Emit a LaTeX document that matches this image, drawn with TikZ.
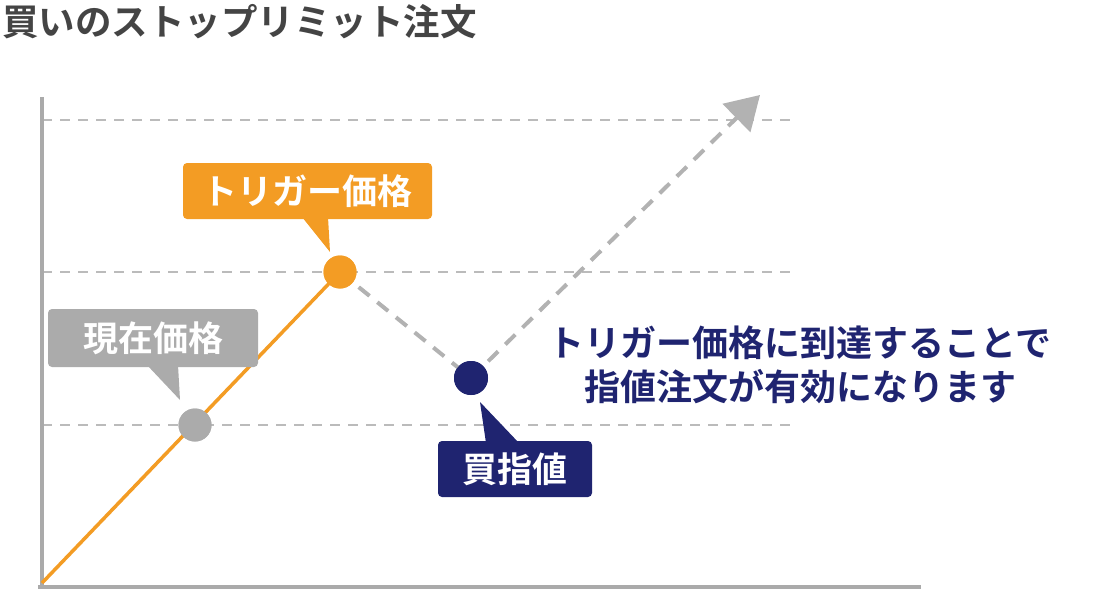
\documentclass[tikz,border=0pt]{standalone}
\usepackage{fontspec}
\newfontfamily\cjk{Noto Sans CJK JP}[BoldFont={Noto Sans CJK JP Bold}]
\usetikzlibrary{arrows.meta}
\definecolor{orng}{HTML}{F39C24}
\definecolor{navy}{HTML}{1F2470}
\definecolor{gbox}{HTML}{ABABAB}
\definecolor{gaxis}{HTML}{AAAAAA}
\definecolor{ggrid}{HTML}{BBBBBB}
\definecolor{gtitle}{HTML}{444444}
\tikzset{
  grid line/.style={ggrid, line width=2.2pt, dash pattern=on 10pt off 8pt},
  axis line/.style={gaxis, line width=4pt},
  dot/.style={circle, inner sep=0pt, minimum size=#1},
  callout/.style={rounded corners=4pt, inner sep=0pt, text=white, font=\cjk\bfseries\fontsize{35}{40}\selectfont},
  path dash/.style={gaxis!90!white, line width=4pt, dash pattern=on 14pt off 10pt},
}
\begin{document}
\begin{tikzpicture}[x=1pt,y=-1pt]
\useasboundingbox (0,0) rectangle (1100,591);
% title
\node[anchor=west, inner sep=0pt, text=gtitle, font=\cjk\bfseries\fontsize{36.5}{40}\selectfont] (title) at (2,22) {買いのストップリミット注文};
% grid
\coordinate (g1a) at (42,120); \coordinate (g1b) at (795,120);
\coordinate (g2a) at (42,272); \coordinate (g2b) at (795,272);
\coordinate (g3a) at (42,425); \coordinate (g3b) at (795,425);
\draw[grid line] (g1a) -- (g1b);
\draw[grid line] (g2a) -- (g2b);
\draw[grid line] (g3a) -- (g3b);
% axes
\coordinate (ytop) at (42,97);
\coordinate (ybot) at (42,589);
\coordinate (xstart) at (38,587);
\coordinate (xend) at (921,587);
\draw[axis line] (ytop) -- (ybot);
\draw[axis line] (xstart) -- (xend);
% points
\node[dot=33pt, fill=orng] (trig) at (340,272) {};
\node[dot=33pt, fill=gbox] (cur) at (195,425) {};
\node[dot=34pt, fill=navy] (lim) at (471,378) {};
\coordinate (start) at (42,583);
\coordinate (tip) at (760,95);
% price lines
\draw[orng, line width=3.5pt] (start) -- (trig.center);
\draw[path dash] (trig.center) -- (lim.center);
\draw[path dash, -{Triangle[length=33pt,width=39pt]}] (lim.center) -- (tip);
\node[dot=33pt, fill=orng] at (trig.center) {};
\node[dot=33pt, fill=gbox] at (cur.center) {};
\node[dot=34pt, fill=navy] at (lim.center) {};
% callouts
\node[callout, fill=orng, minimum width=249pt, minimum height=56pt] (ctrig) at (307.5,191) {トリガー価格};
\fill[orng] (302,217) -- (330,252) -- (328,217) -- cycle;
\node[callout, fill=gbox, minimum width=210pt, minimum height=58pt] (ccur) at (153,338) {現在価格};
\fill[gbox] (147,365) -- (180,400) -- (178,365) -- cycle;
\node[callout, fill=navy, minimum width=154pt, minimum height=56pt] (clim) at (515,469) {買指値};
\fill[navy] (486,443) -- (480,402) -- (519,443) -- cycle;
% explanation
\node[align=center, text=navy, inner sep=0pt, font=\cjk\bfseries\fontsize{36}{44}\selectfont] (expl) at (800,365) {トリガー価格に到達することで\\指値注文が有効になります};
\end{tikzpicture}
\end{document}
